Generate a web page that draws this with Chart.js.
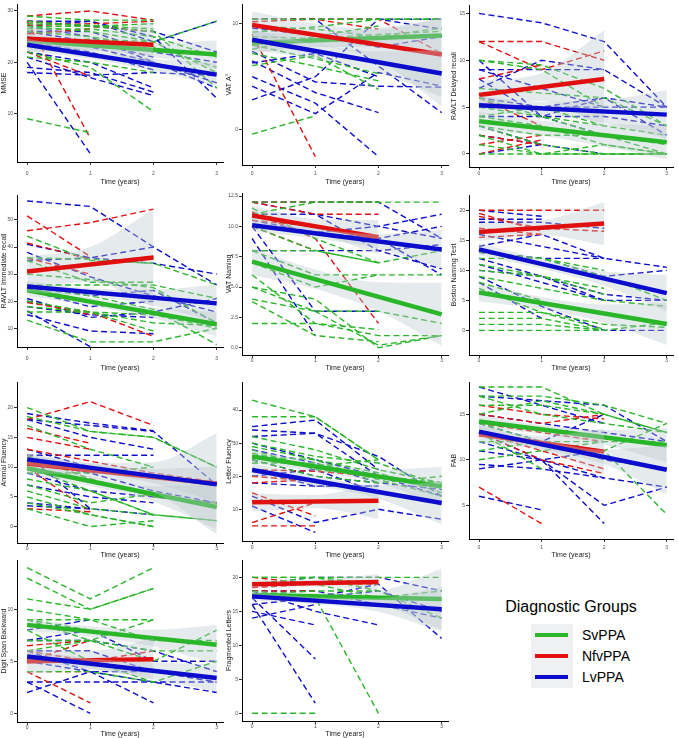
<!DOCTYPE html>
<html>
<head>
<meta charset="utf-8">
<script src="https://cdn.jsdelivr.net/npm/chart.js@4.4.1/dist/chart.umd.min.js"></script>
<style>
  body { margin: 0; background: #fff; font-family: "Liberation Sans", Arial, sans-serif; }
  #page { position: relative; width: 678px; height: 738px; overflow: hidden; }
  canvas { position: absolute; }
  .legend-title { position: absolute; left: 480px; top: 598px; width: 182px; text-align: center; font-size: 16px; color: #000; }
  .legend-box { position: absolute; left: 531px; top: 624px; width: 42px; height: 64px; background: #eef0f1; }
  .key { position: absolute; left: 535px; width: 33px; height: 3.5px; }
  .key-label { position: absolute; left: 582px; font-size: 14px; line-height: 16px; color: #000; }
</style>
</head>
<body>
<div id="page">
  <div class="legend-title">Diagnostic Groups</div>
  <div class="legend-box"></div>
  <div id="keys"></div>
</div>
<script>
// groups
const groupNames = ['SvPPA', 'NfvPPA', 'LvPPA'];
const groupColors = ['#29b629', '#e01010', '#0c0ccc'];
const xTicks = [0, 1, 2, 3];

// MMSE
const mmseSv = [[29, 28.2, 28.2], [27.5, 27.2, 26.5], [27, 27, 26, 15], [26.5, 26.5, 25, 21], [28, 27, 27.5],
  [22, 19, 10.4], [9, 6.3], [24, 24.5, 24, 28], [26, 25, 23, 19], [27, 26, 24, 18], [21, 20, 18]];
const mmseNfv = [[29, 30, 28.2], [28, 5.2], [27.2, 27.5, 28], [22, 17.3], [25.5, 26.5], [28, 27, 26]];
const mmseLv = [[20, 2.2], [28, 28, 25, 13], [27, 28, 24, 28], [18, 17.5, 18, 17.4], [22, 20, 15], [19, 18, 14.2],
  [26, 26, 22, 20], [25, 23, 20, 16], [21, 17, 13.5], [28, 27, 26, 22], [24, 22, 18.5], [27, 25, 20, 15], [26, 24, 21]];
const mmseFit = [[24.2, 21.5], [24.6, 23.4], [23.4, 17.6]];
const mmseBand = [[[22.9, 25.5], [22.4, 24.2], [21.1, 23.7], [18.7, 24.3]],
  [[22.1, 27.1], [22.2, 25.8], [18.9, 27.9]],
  [[22.2, 24.6], [20.7, 22.3], [18.3, 20.7], [15.4, 19.8]]];
const mmseTicks = ['10', '20', '30'];

// VAT A
const vatASv = [[10.44, 10.44, 10.44, 10.44], [-0.44, 1.3], [6.05, 7.0, 3.8], [7.2, 6.0, 4.6], [9.2, 9.7, 10.44, 10.44],
  [8.8, 8.6, 9.0, 9.3], [7.6, 8.8, 9.8], [9.8, 9.5, 8.8, 9.6], [8.0, 6.7, 5.3]];
const vatANfv = [[10.44, 10.44, 10.44, 7.2], [9.0, -2.57], [10.2, 10.44, 9.5]];
const vatALv = [[2.8, 5.0, 10.44, 10.44], [5.0, 2.5, -2.57], [6.5, 3.5, 1.6], [4.1, 1.5, 5.4, 4.1], [10.44, 10.44, 6.0, 1.6],
  [9.6, 8.9, 7.8, 8.8], [10.44, 10.44, 10.44, 9.5], [7.4, 4.5, 4.1, 4.0], [6.3, 7.2, 5.0]];
const vatAFit = [[8.2, 8.9], [9.9, 7.1], [8.5, 5.3]];
const vatABand = [[[7.2, 9.2], [7.8, 9.1], [7.8, 9.6], [7.3, 10.5]],
  [[8.6, 11.2], [8.0, 10.0], [6.5, 9.5], [2.2, 10.5]],
  [[7.5, 9.5], [6.7, 8.1], [5.4, 7.4], [3.1, 7.5]]];
const vatATicks = ['0', '10'];

// RAVLT delayed recall
const delSv = [[10, 9, 5], [10, 9.5, 7, 3], [7, 6.5, 6, 3], [4, 3, 1, 0], [3, 1, 0, 0], [2, 0, 0, 0], [1, 0, 1, 0],
  [0, 0, 0, 0], [5, 4, 3, 2], [3, 2, 2, 1], [6, 4, 2, 0], [4, 5, 3]];
const delNfv = [[12, 12, 10], [12, 9, 11], [8, 9.5], [2, 1], [0, 1.5], [1, 2], [6, 3]];
const delLv = [[15, 14, 12, 5], [10, 4, 2], [9, 9, 9], [7, 10, 9, 5], [8, 4, 6, 2], [5, 5, 5, 5], [4, 4, 4, 3],
  [2, 1, 0], [0, 1], [3, 1], [6, 5, 6, 5], [9, 7, 5]];
const delFit = [[3.5, 1.25], [6.3, 8.0], [5.2, 4.2]];
const delBand = [[[2.5, 4.5], [1.95, 3.55], [0.8, 3.2], [-0.55, 3.05]],
  [[4.8, 7.8], [5.65, 8.65], [2.8, 13.2]],
  [[4.2, 6.2], [4.17, 5.57], [3.33, 5.73], [1.6, 6.8]]];
const delTicks = ['0', '5', '10', '15'];

// RAVLT immediate recall
const immSv = [[44, 35, 34, 26], [36, 35.5, 34], [35, 27, 27], [26, 26, 26, 21], [25, 20, 16, 11], [20, 16, 15, 10],
  [13, 5, 5, 10], [18, 16, 12, 11], [25, 22, 17, 4], [30, 28, 25, 12], [16, 16, 9]];
const immNfv = [[46, 49, 54], [51.5, 36.5], [41.5, 35.5], [31, 34, 36.5], [20, 15], [19.5, 16, 7], [36, 30]];
const immLv = [[57, 55, 40, 26], [41, 36, 40], [35, 36, 34, 30], [20, 15, 14], [16.4, 3.2], [15, 9, 8], [24, 18, 20],
  [21, 14, 16, 21], [38, 29, 22, 16], [26, 22, 24, 12], [18, 15]];
const immFit = [[24, 11.5], [31, 36.1], [25.4, 19.2]];
const immBand = [[[22, 26], [18.3, 21.3], [13.7, 17.7], [7, 16]],
  [[25.5, 36.5], [27, 40], [18, 54]],
  [[23.4, 27.4], [21.8, 24.8], [18.3, 24.3], [12.2, 26.2]]];
const immTicks = ['10', '20', '30', '40', '50'];

// VAT naming
const namSv = [[12, 12, 12, 12], [11, 12, 12], [8, 8, 7, 8], [7, 5, 6, 6], [4, 3, 3, 2], [2, 2, 1, 1], [5, 4, 0, 1],
  [3.8, 1, 0.5], [5, 3, 0.2, 1], [8, 6, 6], [10, 8, 7], [6, 2, 1.5], [11.5, 9, 7]];
const namNfv = [[12, 12, 12], [11.2, 9, 2], [10.5, 10, 9], [12, 11, 11], [10, 8]];
const namLv = [[12, 12, 12, 9], [10, 3, 3], [9, 1], [11, 10, 9, 6], [10.5, 9.5, 10, 11], [8, 8, 8, 8.5], [12, 11, 10, 9],
  [11, 11, 8, 6.5], [10, 9.5, 9, 10]];
const namFit = [[7.1, 2.75], [10.9, 9.1], [10.1, 8.1]];
const namBand = [[[6, 8.2], [4.85, 6.45], [3, 5.4], [0.15, 5.35]],
  [[10.1, 11.7], [9.4, 10.6], [7.7, 10.5]],
  [[9.6, 10.6], [9.03, 9.83], [8.17, 9.37], [6.5, 9.7]]];
const namTicks = ['0.0', '2.5', '5.0', '7.5', '10.0', '12.5'];

// Boston naming test
const bntSv = [[11, 9, 6], [10, 9, 7], [8, 5], [7, 3, 0.2], [3, 3, 1, 0.5], [2, 2, 0], [1, 1, 0, 1.3], [0, 0, 0],
  [13, 12, 9, 5], [12, 12, 10], [9, 7, 5, 4]];
const bntNfv = [[20, 20, 20], [19, 17, 16.5], [17, 16], [15.5, 16], [19.5, 16.5]];
const bntLv = [[20, 19], [18.5, 18.5], [18, 18, 17], [16, 14, 12], [13, 12, 12], [12, 9, 6, 5], [11, 8, 5, 5],
  [13, 12, 9, 10], [10, 9, 5], [9, 4, 0, 0], [8, 2], [14, 16, 12, 10.5]];
const bntFit = [[6.3, 1.05], [16.4, 17.8], [13.5, 6.2]];
const bntBand = [[[4.8, 7.8], [3.55, 5.55], [1.3, 4.3], [-2.45, 4.55]],
  [[14.9, 17.9], [15.9, 18.3], [14.2, 21.4]],
  [[12.5, 14.5], [10.27, 11.87], [7.43, 9.83], [3.2, 9.2]]];
const bntTicks = ['0', '5', '10', '15', '20'];

// Animal fluency
const aniSv = [[20, 16, 15, 10], [18.5, 16, 15, 10], [10, 6, 2, 1], [7, 4, 5.5], [5, 2, 0], [9, 9, 10], [6, 3, 2, 1],
  [3, 0, 1], [12, 8, 5, 4], [8, 6, 2], [4, 2, 0], [17, 13, 10]];
const aniNfv = [[18, 21, 17], [15, 13], [13, 11, 9, 7.5], [12, 8, 5, 4], [3, 2.5], [10, 2.5], [16.5, 14]];
const aniLv = [[19, 17.4, 16.1], [18, 17, 16, 7], [18, 15, 13], [12, 12, 12], [11, 9, 6, 4], [7, 5, 4], [4, 3, 2],
  [3.5, 3], [12, 3], [9, 6, 5, 4], [13, 10, 8]];
const aniFit = [[9.8, 3.3], [10.6, 7.2], [11.3, 7.1]];
const aniBand = [[[8.8, 10.8], [6.83, 8.43], [4.17, 6.77], [-0.5, 7.1]],
  [[9.1, 12.1], [8.27, 10.67], [5.83, 10.83], [-1.3, 15.7]],
  [[10.3, 12.3], [9.1, 10.7], [7.3, 9.7], [4.1, 10.1]]];
const aniTicks = ['0', '5', '10', '15', '20'];

// Letter fluency
const letSv = [[43, 38, 25], [38, 38, 25], [32, 28, 22, 18], [30, 26, 24, 17], [29, 25, 21, 15], [27, 23, 25],
  [25, 20, 18, 20], [24, 24, 19, 14], [28, 22, 20, 18], [26, 25, 18]];
const letNfv = [[20, 18.5], [15, 8], [6, 12], [5, 5], [22, 21.5, 20], [18, 19]];
const letLv = [[35, 37, 22], [34, 33, 26, 14], [32, 33, 20], [30, 25, 20, 14], [28, 24, 18], [25, 20, 18, 16],
  [22, 17, 17], [18, 17, 17], [14, 6, 10, 7], [11, 3], [20, 22, 15]];
const letFit = [[26, 16.9], [12.1, 12.6], [21.9, 11.9]];
const letBand = [[[24, 28], [21.47, 24.47], [17.93, 21.93], [10.9, 22.9]],
  [[9.4, 14.8], [10.35, 14.35], [7.1, 18.1]],
  [[19.9, 23.9], [17.07, 20.07], [13.23, 17.23], [5.4, 18.4]]];
const letTicks = ['10', '20', '30', '40'];

// FAB
const fabSv = [[18, 18, 15, 13], [17, 17, 16, 14], [16, 16, 15, 13], [15, 16.5, 15], [12, 12, 11, 14], [10, 11, 12],
  [14, 12, 11, 4], [13, 9], [11, 12, 12, 12], [17, 15, 14, 13]];
const fabNfv = [[16, 15, 14.5], [13, 11, 9], [15, 14, 15], [7, 3], [13, 10, 8.5], [14, 13, 12]];
const fabLv = [[18, 16, 14], [17, 16.5, 16, 12], [14, 12, 10, 9], [13, 12, 15], [9, 10, 11], [9.5, 9, 8],
  [11, 10, 8, 7], [6, 4.5], [12, 10, 3], [13, 10, 5, 7], [15, 14, 13, 12]];
const fabFit = [[14.2, 11.6], [12.8, 10.9], [13.1, 8.9]];
const fabBand = [[[13.5, 14.9], [12.83, 13.83], [11.67, 13.27], [9.7, 13.5]],
  [[11.8, 13.8], [11.05, 12.65], [8.4, 13.4]],
  [[12.5, 13.7], [11.2, 12.2], [9.5, 11.1], [6.2, 11.6]]];
const fabTicks = ['5', '10', '15'];

// Digit span backward
const digSv = [[14, 11, 14], [13, 10, 12], [11, 10, 12], [10, 9, 7], [9, 9, 9], [9, 7, 5, 8], [7, 7, 6, 6],
  [8, 5, 3, 5], [4, 4, 3], [9, 8, 7, 7], [6, 7, 9]];
const digNfv = [[6.5, 7], [4, 4], [4, 1], [5, 7], [6, 5, 6]];
const digLv = [[8, 9], [7, 7, 6, 4], [6, 4, 3, 2], [5.5, 5, 4, 3], [3, 3, 3, 3], [2, 4, 1], [3, 0], [6, 6, 4],
  [7, 8, 5, 5], [5, 4, 4]];
const digFit = [[8.5, 6.6], [5.0, 5.2], [5.45, 3.4]];
const digBand = [[[7.9, 9.1], [7.37, 8.37], [6.43, 8.03], [4.7, 8.5]],
  [[3.8, 6.2], [4.2, 6.0], [3.2, 7.2]],
  [[4.85, 6.05], [4.27, 5.27], [3.28, 4.88], [2.1, 4.7]]];
const digTicks = ['0', '5', '10'];

// Fragmented letters
const fraSv = [[20, 20, 20, 20], [20, 20, 18, 14], [0, 0], [18, 17, 0], [19, 20, 19], [17.5, 18, 18], [19, 19, 17, 18]];
const fraNfv = [[19, 19, 19], [18, 18], [18.5, 19], [20, 19]];
const fraLv = [[18, 15, 13], [17, 8], [16, 1.5], [14, 16], [15, 13], [16, 17, 18, 15], [17, 17, 19, 11],
  [19, 20, 20, 18], [18, 18, 16, 14]];
const fraFit = [[17.4, 16.8], [19.0, 19.3], [17.2, 15.3]];
const fraBand = [[[16.8, 18], [16.7, 17.7], [16, 18], [12.3, 21.3]],
  [[18.4, 19.6], [18.65, 19.65], [18.1, 20.5]],
  [[16.6, 17.8], [16.07, 17.07], [14.93, 16.93], [12, 18.6]]];
const fraTicks = ['0', '5', '10', '15', '20'];

const panels = [
  { title: 'MMSE', sets: [mmseSv, mmseNfv, mmseLv], fit: mmseFit, band: mmseBand, ticks: mmseTicks, y: [0.58, 31.35] },
  { title: 'VAT A°', sets: [vatASv, vatANfv, vatALv], fit: vatAFit, band: vatABand, ticks: vatATicks, y: [-3.36, 11.88] },
  { title: 'RAVLT Delayed recall', sets: [delSv, delNfv, delLv], fit: delFit, band: delBand, ticks: delTicks, y: [-1.39, 15.9] },
  { title: 'RAVLT Immediate recall', sets: [immSv, immNfv, immLv], fit: immFit, band: immBand, ticks: immTicks, y: [3.1, 59.2] },
  { title: 'VAT Naming', sets: [namSv, namNfv, namLv], fit: namFit, band: namBand, ticks: namTicks, y: [-0.6, 12.75] },
  { title: 'Boston Naming Test', sets: [bntSv, bntNfv, bntLv], fit: bntFit, band: bntBand, ticks: bntTicks, y: [-4.1, 22.55] },
  { title: 'Animal Fluency', sets: [aniSv, aniNfv, aniLv], fit: aniFit, band: aniBand, ticks: aniTicks, y: [-2.75, 24.3] },
  { title: 'Letter Fluency', sets: [letSv, letNfv, letLv], fit: letFit, band: letBand, ticks: letTicks, y: [0.42, 48.5] },
  { title: 'FAB', sets: [fabSv, fabNfv, fabLv], fit: fabFit, band: fabBand, ticks: fabTicks, y: [1.3, 18.55] },
  { title: 'Digit Span Backward', sets: [digSv, digNfv, digLv], fit: digFit, band: digBand, ticks: digTicks, y: [-0.84, 14.74] },
  { title: 'Fragmented Letters', sets: [fraSv, fraNfv, fraLv], fit: fraFit, band: fraBand, ticks: fraTicks, y: [-1.13, 22.55] }
];

// layout: canvas rows and per panel plot top / bottom (page px)
const rows = [
  { top: 0, height: 186, labelY: 174 },
  { top: 188, height: 184, labelY: 359 },
  { top: 376, height: 183, labelY: 548 },
  { top: 556, height: 182, labelY: 727 }
];
const plotBoxes = [[2, 162], [3, 165], [5, 167], [195, 347], [193, 355], [195, 355],
  [382, 543], [382, 541], [382, 539], [560, 722], [560, 721]];

const bandColor = 'rgba(186, 200, 206, 0.38)';
const page = document.getElementById('page');

panels.forEach((p, i) => {
  const col = i % 3, row = rows[Math.floor(i / 3)];
  const [pTop, pBottom] = plotBoxes[i];
  const canvas = document.createElement('canvas');
  canvas.width = 226;
  canvas.height = row.height;
  canvas.style.left = (col * 225) + 'px';
  canvas.style.top = row.top + 'px';
  page.appendChild(canvas);

  const xh = row.top + row.height - pBottom;
  const tickPad = Math.max(0, row.labelY - pBottom - 6);
  const yw = col === 2 ? 19 : 17;
  const tickVals = p.ticks.map(Number);

  const datasets = [];
  // individual trajectories
  p.sets.forEach((set, g) => {
    set.forEach(line => {
      datasets.push({
        data: line.map((v, t) => ({ x: t, y: v })),
        borderColor: groupColors[g], borderWidth: 1.4, borderDash: [6, 3.5],
        pointRadius: 0, fill: false, order: 20
      });
    });
  });
  // confidence band + fitted line per group
  p.fit.forEach((f, g) => {
    const band = p.band[g];
    const end = band.length - 1;
    const ord = 10 - g * 3;
    const up = datasets.length;
    datasets.push({
      data: band.map((b, t) => ({ x: t, y: b[1] })), borderWidth: 0, pointRadius: 0,
      cubicInterpolationMode: 'monotone', backgroundColor: bandColor, fill: up + 1, order: ord
    });
    datasets.push({
      data: band.map((b, t) => ({ x: t, y: b[0] })), borderWidth: 0, pointRadius: 0,
      cubicInterpolationMode: 'monotone', fill: false, order: ord
    });
    datasets.push({
      data: [{ x: 0, y: f[0] }, { x: end, y: f[1] }], borderColor: groupColors[g], borderWidth: 4.5,
      pointRadius: 0, fill: false, order: ord - 1
    });
  });

  new Chart(canvas, {
    type: 'line',
    data: { datasets },
    options: {
      responsive: false, animation: false, events: [],
      layout: { padding: { top: pTop - row.top, right: 3, left: 0, bottom: 0 } },
      plugins: { legend: { display: false }, tooltip: { enabled: false } },
      scales: {
        x: {
          type: 'linear', min: -0.16, max: 3.1,
          afterBuildTicks: s => { s.ticks = xTicks.map(v => ({ value: v })); },
          afterFit: s => { s.height = xh; },
          ticks: { font: { size: 5, family: 'Liberation Sans' }, color: '#4d4d4d', padding: tickPad, maxRotation: 0 },
          grid: { drawOnChartArea: false, tickLength: 3, color: '#333' },
          border: { color: '#000', width: 1 },
          title: { display: true, text: 'Time (years)', font: { size: 7, family: 'Liberation Sans' }, color: '#222', padding: 0 }
        },
        y: {
          type: 'linear', min: p.y[0], max: p.y[1],
          afterBuildTicks: s => { s.ticks = tickVals.map(v => ({ value: v })); },
          afterFit: s => { s.width = yw; },
          ticks: {
            font: { size: 5, family: 'Liberation Sans' }, color: '#4d4d4d', padding: 1,
            callback: v => p.ticks[tickVals.indexOf(v)]
          },
          grid: { drawOnChartArea: false, tickLength: 3, color: '#333' },
          border: { color: '#000', width: 1 },
          title: { display: true, text: p.title, font: { size: 7, family: 'Liberation Sans' }, color: '#222', padding: 0 }
        }
      }
    }
  });
});

// legend keys
const keys = document.getElementById('keys');
const keyY = [635, 656, 677];
groupNames.forEach((name, g) => {
  const k = document.createElement('div');
  k.className = 'key';
  k.style.top = (keyY[g] - 1.75) + 'px';
  k.style.background = groupColors[g];
  keys.appendChild(k);
  const l = document.createElement('div');
  l.className = 'key-label';
  l.style.top = (keyY[g] - 8) + 'px';
  l.textContent = name;
  keys.appendChild(l);
});
</script>
</body>
</html>
